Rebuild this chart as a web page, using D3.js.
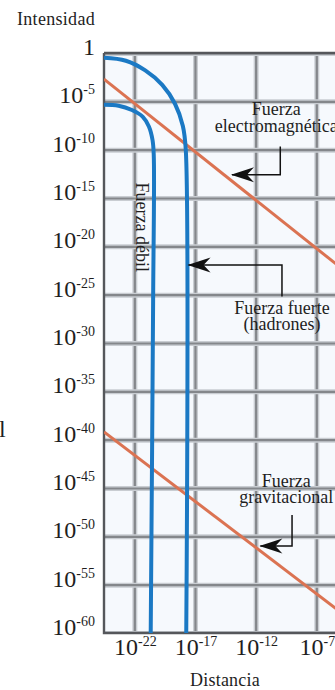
<!DOCTYPE html>
<html><head><meta charset="utf-8">
<script src="https://cdn.jsdelivr.net/npm/d3@7"></script>
<style>html,body{margin:0;padding:0;background:#fff;overflow:hidden}</style>
</head><body><svg id="c" width="335" height="690"></svg>
<script>
// ---- data (exponents of 10) ----
const xTickExps = [-22, -17, -12, -7];
const yTickExps = [0, -5, -10, -15, -20, -25, -30, -35, -40, -45, -50, -55, -60];
const strongX = [-24.5, -22.7, -21.1, -19.7, -18.65, -18.0, -17.76, -17.72];
const strongY = [-0.5, -0.8, -1.8, -3.3, -5.25, -7.55, -10, -60];
const weakX = [-24.5, -23.3, -22.2, -21.3, -20.8, -20.5, -20.4, -20.45, -20.65];
const weakY = [-5.35, -5.45, -5.9, -6.6, -7.6, -9.0, -10.5, -25.5, -60];
const emX = [-24.5, -4];
const emY = [-2.7, -23.2];
const gravX = [-24.5, -4];
const gravY = [-39.2, -58.8];
const yTitle = "Intensidad";
const xTitle = "Distancia";
const labelEM = ["Fuerza", "electromagnética"];
const labelStrong = ["Fuerza fuerte", "(hadrones)"];
const labelGrav = ["Fuerza", "gravitacional"];
const labelWeak = "Fuerza débil";

(function () {
const svg = d3.select("#c");
const L = 104, T = 53, B = 633, R = 352.7;
const p = e => Math.pow(10, e);
const x = d3.scaleLog().domain([p(-24.5), p(-4)]).range([L, R]);
const y = d3.scaleLog().domain([p(0), p(-60)]).range([T, B]);
const X = e => x(p(e)), Y = e => y(p(e));
const serif = "'Liberation Serif', 'Times New Roman', serif";
const ink = "#1e1e1e";

const defs = svg.append("defs");
defs.append("clipPath").attr("id", "pc")
  .append("rect").attr("x", L).attr("y", T).attr("width", 400).attr("height", B - T);
defs.append("marker").attr("id", "ah")
  .attr("viewBox", "-24 -8 26 16").attr("refX", 0).attr("refY", 0)
  .attr("markerWidth", 26).attr("markerHeight", 16).attr("markerUnits", "userSpaceOnUse")
  .attr("orient", "auto")
  .append("path").attr("d", "M1,0 L-22,-7.5 L-15,0 L-22,7.5 Z").attr("fill", "#111");

svg.append("rect").attr("x", L).attr("y", T).attr("width", 400).attr("height", B - T)
  .attr("fill", "#f6f9fd");

const grid = svg.append("g").attr("clip-path", "url(#pc)");
const gx = grid.append("g").attr("transform", `translate(0,${B})`)
  .call(d3.axisBottom(x).tickValues(xTickExps.map(p)).tickSize(-(B - T)).tickFormat(""));
const gy = grid.append("g").attr("transform", `translate(${L},0)`)
  .call(d3.axisLeft(y).tickValues(yTickExps.map(p)).tickSize(-400).tickFormat(""));
[gx, gy].forEach(g => {
  g.select(".domain").remove();
  g.selectAll(".tick line").each(function () {
    const ln = d3.select(this);
    d3.select(this.parentNode).insert("line", "line")
      .attr("x1", ln.attr("x1") || 0).attr("x2", ln.attr("x2") || 0)
      .attr("y1", ln.attr("y1") || 0).attr("y2", ln.attr("y2") || 0)
      .attr("stroke", "#c9cdd2").attr("stroke-width", 5);
    ln.attr("stroke", "#84878b").attr("stroke-width", 2.2);
  });
});

svg.append("path").attr("d", `M${L},${T} H335 M${L},${T} V${B} H335`)
  .attr("fill", "none").attr("stroke", "#55575b").attr("stroke-width", 2.4);

const lineGen = d3.line().x(d => X(d[0])).y(d => Y(d[1])).curve(d3.curveCatmullRom.alpha(0.5));
const plot = svg.append("g").attr("clip-path", "url(#pc)");
const zip = (a, b) => a.map((v, i) => [v, b[i]]);
plot.append("path").attr("d", lineGen(zip(emX, emY))).attr("fill", "none")
  .attr("stroke", "#db7352").attr("stroke-width", 3);
plot.append("path").attr("d", lineGen(zip(gravX, gravY))).attr("fill", "none")
  .attr("stroke", "#db7352").attr("stroke-width", 3);
plot.append("path").attr("d", lineGen(zip(strongX, strongY))).attr("fill", "none")
  .attr("stroke", "#1b79c4").attr("stroke-width", 4);
plot.append("path").attr("d", lineGen(zip(weakX, weakY))).attr("fill", "none")
  .attr("stroke", "#1b79c4").attr("stroke-width", 4);

const supLabel = (sel, e) => {
  if (e === 0) { sel.text("1"); return; }
  sel.append("tspan").text("10");
  sel.append("tspan").attr("dy", -9).attr("font-size", 14).text(String(e));
};
yTickExps.forEach(e => {
  const t = svg.append("text").attr("x", 95).attr("y", Y(e) + 2)
    .attr("text-anchor", "end").attr("font-family", serif).attr("font-size", 24).attr("fill", ink);
  supLabel(t, e);
});
xTickExps.forEach(e => {
  const t = svg.append("text").attr("x", X(e) + 1).attr("y", 655)
    .attr("text-anchor", "middle").attr("font-family", serif).attr("font-size", 24).attr("fill", ink);
  supLabel(t, e);
});

svg.append("text").attr("x", 17).attr("y", 25).attr("font-family", serif).attr("font-size", 18)
  .attr("fill", ink).attr("letter-spacing", 0.3).text(yTitle);
svg.append("text").attr("x", 225).attr("y", 686).attr("text-anchor", "middle").attr("font-family", serif)
  .attr("font-size", 18).attr("fill", ink).attr("letter-spacing", 0.2).text(xTitle);
svg.append("text").attr("x", -1).attr("y", 437).attr("font-family", serif).attr("font-size", 24)
  .attr("fill", ink).text("l");

const ann = svg.append("g").attr("font-family", serif).attr("font-size", 18).attr("fill", ink)
  .attr("text-anchor", "middle");
const twoLines = (lines, cx, b1, b2) => {
  ann.append("text").attr("x", X(cx)).attr("y", Y(b1)).text(lines[0]);
  ann.append("text").attr("x", X(cx)).attr("y", Y(b2)).text(lines[1]);
};
const arrow = (sx, sy, ey, tx) => {
  svg.append("path").attr("d", `M${X(sx)},${Y(sy)} V${Y(ey)} H${X(tx)}`)
    .attr("fill", "none").attr("stroke", "#111").attr("stroke-width", 1.5)
    .attr("marker-end", "url(#ah)");
};
twoLines(labelEM, -10.3, -6.4, -8.15);
arrow(-9.97, -9.67, -12.6, -13.95);
twoLines(labelStrong, -9.83, -26.95, -28.7);
arrow(-9.83, -25.2, -21.92, -17.53);
twoLines(labelGrav, -9.47, -44.85, -46.6);
arrow(-9.0, -47.8, -51.0, -11.61);
ann.append("text").attr("transform", `translate(${X(-21.84)},${Y(-18.03)}) rotate(90)`)
  .text(labelWeak);
})();
</script></body></html>
